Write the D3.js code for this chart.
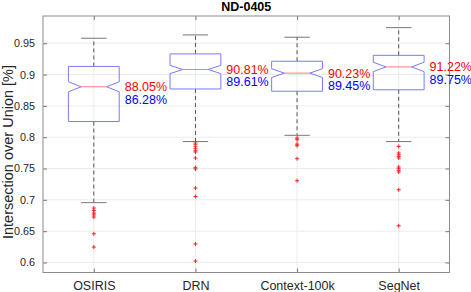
<!DOCTYPE html>
<html>
<head>
	<script src="https://d3js.org/d3.v7.min.js"></script>
	<style>
		html, body { margin: 0; padding: 0; background: #fff; }
		svg { display: block; font-family: "Liberation Sans", Arial, Helvetica, sans-serif; }
	</style>
</head>
<body>
	<svg id="chart" width="471" height="292"></svg>
	<script>
		// data
		const categories = ["OSIRIS", "DRN", "Context-100k", "SegNet"];
		const whiskerLow  = [0.6955, 0.7930, 0.8030, 0.7930];
		const q1          = [0.8250, 0.8770, 0.8734, 0.8757];
		const medians     = [0.8805, 0.9081, 0.9023, 0.9122];
		const q3          = [0.9130, 0.9330, 0.9213, 0.9307];
		const whiskerHigh = [0.9580, 0.9633, 0.9596, 0.9749];
		const notchHalf   = [0.0080, 0.0066, 0.0070, 0.0075];
		const means       = [0.8628, 0.8961, 0.8945, 0.8975];
		const outliers = [
			[0.6869, 0.6831, 0.6789, 0.6760, 0.6725, 0.6458, 0.6246],
			[0.7907, 0.7880, 0.7848, 0.7816, 0.7784, 0.7764, 0.7668, 0.7513, 0.7492, 0.7188, 0.7054, 0.6296, 0.6022],
			[0.7987, 0.7960, 0.7890, 0.7864, 0.7657, 0.7305],
			[0.7853, 0.7748, 0.7720, 0.7693, 0.7668, 0.7524, 0.7497, 0.7470, 0.7444, 0.7161, 0.6586]
		];
		const yTicks = [0.6, 0.65, 0.7, 0.75, 0.8, 0.85, 0.9, 0.95];

		const svg = d3.select("#chart");
		const pLeft = 43, pRight = 449.5, pTop = 16, pBottom = 272.5;

		const x = d3.scalePoint().domain(categories).range([pLeft, pRight]).padding(0.5);
		const y = d3.scaleLinear().domain([0.584, 0.9935]).range([pBottom, pTop]);
		const boxW = x.step() * 0.5;
		const fmt = v => (v * 100).toFixed(2) + "%";

		// grid
		svg.append("g").selectAll("line").data(yTicks).enter().append("line")
			.attr("x1", pLeft).attr("x2", pRight)
			.attr("y1", d => y(d)).attr("y2", d => y(d))
			.attr("stroke", "#ebebeb");
		svg.append("g").selectAll("line").data(categories).enter().append("line")
			.attr("x1", d => x(d)).attr("x2", d => x(d))
			.attr("y1", pTop).attr("y2", pBottom)
			.attr("stroke", "#ebebeb");

		// axes (inward ticks, box around)
		const yAxis = svg.append("g").attr("transform", `translate(${pLeft},0)`)
			.call(d3.axisLeft(y).tickValues(yTicks).tickSize(-4).tickPadding(8).tickFormat(d3.format("")));
		const yAxisR = svg.append("g").attr("transform", `translate(${pRight},0)`)
			.call(d3.axisRight(y).tickValues(yTicks).tickSize(-4).tickFormat(""));
		const xAxis = svg.append("g").attr("transform", `translate(0,${pBottom})`)
			.call(d3.axisBottom(x).tickSize(-4).tickPadding(9));
		const xAxisT = svg.append("g").attr("transform", `translate(0,${pTop})`)
			.call(d3.axisTop(x).tickSize(-4).tickFormat(""));
		[yAxis, yAxisR, xAxis, xAxisT].forEach(a => {
			a.selectAll(".domain").remove();
			a.selectAll(".tick line").attr("stroke", "#777");
			a.selectAll("text").attr("fill", "#262626").style("font-family", "inherit");
		});
		yAxis.selectAll("text").style("font-size", "10.8px");
		xAxis.selectAll("text").style("font-size", "12.5px");
		svg.append("rect").attr("x", pLeft).attr("y", pTop)
			.attr("width", pRight - pLeft).attr("height", pBottom - pTop)
			.attr("fill", "none").attr("stroke", "#8c8c8c");

		const rows = categories.map((c, i) => ({
			c, lo: whiskerLow[i], q1: q1[i], med: medians[i], q3: q3[i], hi: whiskerHigh[i],
			n: notchHalf[i], mean: means[i], out: outliers[i]
		}));

		const g = svg.append("g").selectAll("g").data(rows).enter().append("g");

		// whiskers
		g.append("line").attr("x1", d => x(d.c)).attr("x2", d => x(d.c))
			.attr("y1", d => y(d.q3)).attr("y2", d => y(d.hi))
			.attr("stroke", "#555").attr("stroke-dasharray", "4,3");
		g.append("line").attr("x1", d => x(d.c)).attr("x2", d => x(d.c))
			.attr("y1", d => y(d.q1)).attr("y2", d => y(d.lo))
			.attr("stroke", "#555").attr("stroke-dasharray", "4,3");
		g.selectAll(".cap").data(d => [[d.c, d.hi], [d.c, d.lo]]).enter().append("line")
			.attr("x1", d => x(d[0]) - boxW / 4).attr("x2", d => x(d[0]) + boxW / 4)
			.attr("y1", d => y(d[1])).attr("y2", d => y(d[1]))
			.attr("stroke", "#777");

		// notched box
		g.append("path")
			.attr("d", d => {
				const cx = x(d.c), h = boxW / 2, k = boxW / 4;
				return d3.line()([
					[cx - h, y(d.q1)], [cx - h, y(d.med - d.n)], [cx - k, y(d.med)],
					[cx - h, y(d.med + d.n)], [cx - h, y(d.q3)], [cx + h, y(d.q3)],
					[cx + h, y(d.med + d.n)], [cx + k, y(d.med)], [cx + h, y(d.med - d.n)],
					[cx + h, y(d.q1)]
				]) + "Z";
			})
			.attr("fill", "none").attr("stroke", "#7a7aff");
		g.append("line")
			.attr("x1", d => x(d.c) - boxW / 4).attr("x2", d => x(d.c) + boxW / 4)
			.attr("y1", d => y(d.med)).attr("y2", d => y(d.med))
			.attr("stroke", "#ff7a7a");

		// outliers
		g.selectAll(".out").data(d => d.out.map(v => [d.c, v])).enter().append("path")
			.attr("d", d => {
				const px = x(d[0]), py = y(d[1]);
				return `M${px - 2},${py}H${px + 2}M${px},${py - 2}V${py + 2}`;
			})
			.attr("stroke", "#ff2020").attr("stroke-width", 1);

		// median / mean labels
		g.append("text").attr("x", d => x(d.c) + boxW / 2 + 5.5).attr("y", d => y(d.med) + 4.5)
			.attr("fill", "#ff0000").style("font-size", "12.5px").text(d => fmt(d.med));
		g.append("text").attr("x", d => x(d.c) + boxW / 2 + 5.5).attr("y", d => y(d.med) + 17)
			.attr("fill", "#0000ff").style("font-size", "12.5px").text(d => fmt(d.mean));

		// title and y label
		svg.append("text").attr("x", (pLeft + pRight) / 2).attr("y", 11)
			.attr("text-anchor", "middle").attr("font-weight", "bold")
			.style("font-size", "12.5px").attr("fill", "#000").text("ND-0405");
		svg.append("text")
			.attr("transform", `translate(13,152) rotate(-90)`)
			.attr("text-anchor", "middle").style("font-size", "14.5px").attr("fill", "#262626")
			.text("Intersection over Union [%]");
	</script>
</body>
</html>
